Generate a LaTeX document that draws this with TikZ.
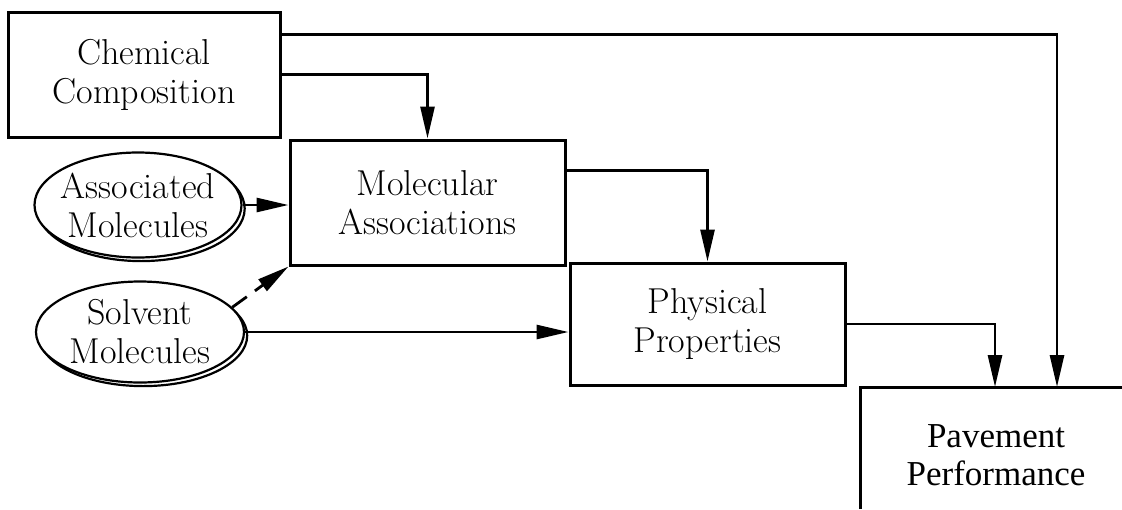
\documentclass[tikz,border=0pt]{standalone}
\usepackage{fontspec}
\newfontfamily\timesfont{Liberation Serif}
\usepackage{tikz}
\usetikzlibrary{positioning, calc, shapes.geometric, shadows, arrows.meta}

\begin{document}
\begin{tikzpicture}[x=0.5pt, y=-0.5pt, font=\fontsize{18}{19.5}\selectfont, align=center, >={Triangle[length=16pt, width=7pt]}, line width=1.4pt]
        % Styles
        \tikzset{
            factor/.style={draw, rectangle, line width=1.5pt, inner sep=0pt},
            molecule/.style={draw, ellipse, fill=white, inner xsep=-4pt, inner ysep=0pt, line width=1.1pt,
                copy shadow={shadow xshift=1.6pt, shadow yshift=-1.8pt, draw, fill=white}}
        }
        \useasboundingbox (0,0) rectangle (1122,509);

        % Nodes
        \node[factor, minimum width=136pt, minimum height=62.5pt] (chem) at (144,74.5) {Chemical\\Composition};
        \node[factor, minimum width=137.5pt, minimum height=62.5pt] (molassoc) at (427.5,202.5) {Molecular\\Associations};
        \node[factor, minimum width=137.5pt, minimum height=61pt] (phys) at (707.5,324) {Physical\\Properties};
        \node[minimum width=131pt, minimum height=61pt, font=\timesfont\fontsize{17.5}{19}\selectfont] (pave) at (996,455) {Pavement\\Performance};

        \node[molecule, minimum width=103.5pt, minimum height=52.5pt] (assoc) at (138,205) {Associated\\Molecules};
        \node[molecule, minimum width=104pt, minimum height=50.5pt] (solv) at (140,332) {Solvent\\Molecules};

        \coordinate (chemtop) at ($(chem.north east)!0.19!(chem.south east)$);
        \coordinate (molout) at ($(molassoc.north east)!0.25!(molassoc.south east)$);
        \coordinate (pavecorner) at (860,387);
        \coordinate (pavein) at (1057,387);
        \coordinate (physin) at (995,387);

        % Pavement box shows only two sides
        \draw[line width=1.5pt] (pavecorner |- 0,509) -- (pavecorner) -- (pavecorner -| 1122,0);

        % Edges
        \draw[->] (chemtop) -| (pavein);
        \draw[->] (chem.east) -| (molassoc.north);
        \draw[->] (molout) -| (phys.north);
        \draw[->] (phys.east) -| (physin);
        \draw[->] (assoc.east) -- (assoc.east -| molassoc.west);
        \draw[->] (solv.east) -- (solv.east -| phys.west);
        \draw[->, dashed, dash pattern=on 9pt off 5pt] (solv.15) -- (molassoc.south west);
    \end{tikzpicture}
\end{document}
